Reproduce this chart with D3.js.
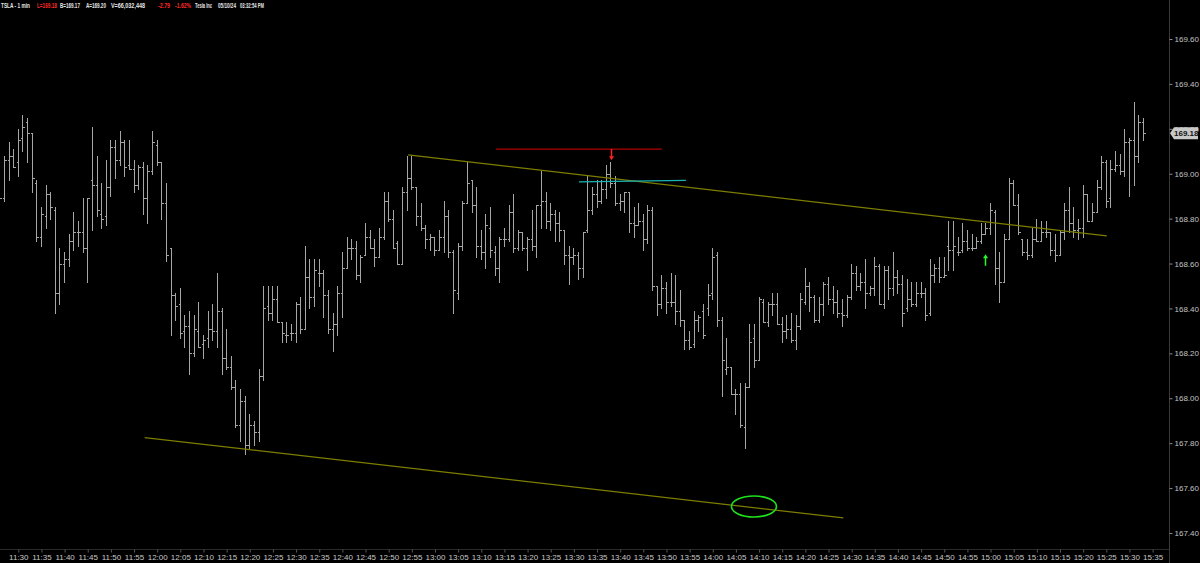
<!DOCTYPE html>
<html><head><meta charset="utf-8">
<script src="https://cdn.jsdelivr.net/npm/d3@7/dist/d3.min.js"></script>
<style>html,body{margin:0;padding:0;background:#000;overflow:hidden}</style>
</head><body><svg id="c" width="1200" height="563"></svg>
<script>
// ---- data ----
const firstBarMinute = 11*60 + 26;   // first bar 11:26, one bar per minute
const opens = [168.95,168.89,169.06,169.08,169.05,169.16,169.23,169.18,168.96,168.72,168.81,168.91,168.84,168.47,168.60,168.62,168.70,168.74,168.74,168.67,168.97,168.95,168.82,168.81,168.94,169.12,169.06,169.14,169.04,169.02,168.95,169.03,168.89,169.01,169.13,169.05,168.87,168.67,168.46,168.42,168.30,168.32,168.20,168.30,168.24,168.27,168.31,168.30,168.39,168.18,168.14,168.05,167.88,167.99,167.79,167.88,167.85,168.10,168.41,168.38,168.44,168.34,168.28,168.29,168.29,168.42,168.31,168.54,168.45,168.56,168.56,168.46,168.31,168.33,168.47,168.58,168.67,168.67,168.55,168.64,168.72,168.67,168.63,168.72,168.88,168.80,168.69,168.60,168.92,168.98,168.94,168.81,168.76,168.71,168.72,168.66,168.72,168.81,168.65,168.47,168.68,168.87,168.97,168.86,168.68,168.65,168.76,168.65,168.58,168.71,168.71,168.83,168.67,168.74,168.67,168.71,168.68,168.86,168.88,168.79,168.82,168.78,168.75,168.64,168.63,168.64,168.58,168.75,168.84,168.91,168.88,168.93,169.00,168.96,168.87,168.88,168.92,168.78,168.77,168.79,168.71,168.84,168.50,168.42,168.49,168.43,168.43,168.39,168.35,168.26,168.24,168.35,168.39,168.40,168.47,168.64,168.35,168.13,168.14,168.02,168.02,167.87,168.05,168.27,168.17,168.43,168.34,168.42,168.42,168.33,168.30,168.31,168.26,168.32,168.43,168.50,168.45,168.35,168.42,168.51,168.44,168.43,168.38,168.37,168.45,168.56,168.50,168.52,168.47,168.49,168.59,168.42,168.57,168.49,168.54,168.51,168.40,168.44,168.42,168.47,168.47,168.38,168.55,168.58,168.54,168.68,168.66,168.65,168.66,168.70,168.67,168.67,168.70,168.73,168.76,168.83,168.58,168.52,168.71,168.96,168.86,168.71,168.65,168.64,168.71,168.70,168.74,168.74,168.66,168.64,168.74,168.84,168.78,168.75,168.76,168.91,168.79,168.83,168.94,169.05,168.89,169.02,169.04,169.01,169.14,169.15,169.08,169.23];
const highs = [169.08,169.08,169.14,169.11,169.20,169.26,169.25,169.18,168.97,168.85,168.95,168.92,168.85,168.67,168.65,168.73,168.83,168.79,168.89,168.89,169.21,169.08,168.96,169.06,169.15,169.15,169.19,169.15,169.15,169.06,169.04,169.05,169.04,169.19,169.15,169.05,168.96,168.67,168.47,168.49,168.37,168.39,168.37,168.43,168.28,168.39,168.42,168.56,168.40,168.31,168.19,168.08,168.04,168.01,167.93,167.90,168.13,168.50,168.50,168.50,168.50,168.34,168.34,168.33,168.43,168.45,168.68,168.62,168.62,168.62,168.57,168.48,168.38,168.50,168.65,168.72,168.71,168.70,168.64,168.78,168.75,168.71,168.76,168.92,168.92,168.84,168.70,168.94,169.08,169.08,168.94,168.87,168.77,168.73,168.72,168.75,168.88,168.84,168.66,168.69,168.88,169.05,168.97,168.94,168.75,168.82,168.85,168.68,168.72,168.76,168.86,168.91,168.75,168.74,168.72,168.84,168.86,169.01,168.92,168.87,168.84,168.83,168.75,168.68,168.67,168.65,168.74,168.99,168.94,168.97,168.97,169.04,169.05,168.99,168.91,168.92,168.92,168.85,168.87,168.82,168.86,168.85,168.50,168.55,168.52,168.56,168.55,168.48,168.35,168.30,168.39,168.37,168.42,168.51,168.67,168.65,168.36,168.27,168.14,168.04,168.07,168.07,168.33,168.33,168.45,168.44,168.43,168.47,168.47,168.36,168.37,168.38,168.37,168.47,168.58,168.52,168.46,168.45,168.52,168.54,168.50,168.48,168.44,168.46,168.60,168.59,168.56,168.62,168.50,168.63,168.60,168.59,168.59,168.65,168.57,168.55,168.53,168.52,168.52,168.52,168.49,168.62,168.60,168.63,168.63,168.79,168.79,168.72,168.78,168.75,168.73,168.72,168.78,168.78,168.87,168.84,168.65,168.73,168.98,168.97,168.91,168.71,168.71,168.76,168.80,168.79,168.79,168.74,168.73,168.75,168.87,168.94,168.85,168.80,168.95,168.91,168.87,168.97,169.08,169.06,169.06,169.10,169.09,169.20,169.16,169.32,169.26,169.25];
const lows = [168.84,168.88,168.97,169.03,168.99,169.10,169.05,168.92,168.70,168.68,168.76,168.80,168.38,168.42,168.52,168.59,168.66,168.68,168.65,168.52,168.75,168.81,168.76,168.77,168.90,168.98,169.04,168.99,169.02,168.92,168.93,168.82,168.78,169.00,169.04,168.80,168.61,168.28,168.35,168.27,168.23,168.11,168.19,168.23,168.18,168.23,168.26,168.23,168.11,168.13,168.04,167.87,167.81,167.75,167.78,167.79,167.81,168.08,168.35,168.35,168.34,168.25,168.25,168.26,168.25,168.29,168.31,168.40,168.41,168.50,168.36,168.29,168.21,168.28,168.36,168.58,168.62,168.53,168.52,168.64,168.67,168.59,168.63,168.71,168.79,168.67,168.60,168.60,168.84,168.93,168.77,168.75,168.67,168.66,168.64,168.66,168.65,168.63,168.38,168.44,168.66,168.87,168.83,168.63,168.62,168.58,168.63,168.55,168.52,168.68,168.70,168.65,168.66,168.66,168.57,168.66,168.63,168.76,168.76,168.75,168.70,168.70,168.60,168.51,168.60,168.53,168.54,168.74,168.82,168.85,168.87,168.89,168.94,168.86,168.84,168.83,168.74,168.72,168.77,168.66,168.69,168.48,168.37,168.40,168.38,168.41,168.33,168.32,168.22,168.22,168.23,168.30,168.27,168.37,168.44,168.32,168.01,168.11,168.02,167.93,167.87,167.78,168.05,168.14,168.17,168.34,168.32,168.37,168.33,168.25,168.27,168.25,168.22,168.31,168.42,168.39,168.34,168.34,168.37,168.42,168.38,168.36,168.32,168.36,168.44,168.48,168.48,168.40,168.46,168.46,168.42,168.40,168.44,168.46,168.47,168.32,168.39,168.41,168.41,168.45,168.35,168.37,168.52,168.52,168.54,168.57,168.57,168.64,168.65,168.66,168.66,168.67,168.69,168.73,168.73,168.51,168.43,168.52,168.71,168.86,168.73,168.64,168.62,168.63,168.70,168.70,168.72,168.64,168.61,168.64,168.71,168.74,168.72,168.71,168.72,168.79,168.79,168.83,168.93,168.85,168.85,169.01,169.00,168.99,168.90,168.95,169.05,169.15];
const closes = [168.89,169.06,169.08,169.03,169.15,169.21,169.18,168.98,168.72,168.82,168.91,168.85,168.47,168.60,168.62,168.70,168.74,168.74,168.67,168.89,168.95,168.84,168.80,168.94,169.12,169.06,169.14,169.03,169.02,168.95,169.03,168.89,169.01,169.14,169.05,168.87,168.64,168.46,168.41,168.29,168.32,168.20,168.31,168.23,168.26,168.31,168.30,168.39,168.18,168.14,168.05,167.88,167.99,167.79,167.88,167.85,168.10,168.40,168.38,168.44,168.34,168.29,168.28,168.29,168.42,168.31,168.54,168.45,168.57,168.56,168.46,168.31,168.33,168.47,168.58,168.67,168.67,168.55,168.63,168.72,168.67,168.63,168.72,168.88,168.80,168.67,168.60,168.92,168.98,168.94,168.81,168.76,168.71,168.72,168.66,168.72,168.81,168.65,168.48,168.68,168.87,168.96,168.86,168.68,168.65,168.77,168.66,168.58,168.71,168.71,168.83,168.67,168.74,168.67,168.71,168.68,168.86,168.88,168.79,168.82,168.78,168.75,168.64,168.63,168.64,168.58,168.74,168.84,168.91,168.88,168.93,169.00,168.96,168.87,168.88,168.92,168.78,168.77,168.79,168.71,168.84,168.50,168.42,168.49,168.43,168.43,168.39,168.35,168.26,168.23,168.35,168.36,168.28,168.46,168.63,168.35,168.17,168.14,168.02,168.02,167.88,168.05,168.25,168.17,168.44,168.34,168.42,168.42,168.33,168.30,168.31,168.26,168.32,168.44,168.50,168.45,168.35,168.42,168.51,168.44,168.43,168.38,168.37,168.45,168.56,168.50,168.52,168.47,168.49,168.59,168.42,168.57,168.49,168.54,168.51,168.38,168.44,168.42,168.47,168.47,168.37,168.55,168.58,168.54,168.55,168.66,168.68,168.65,168.70,168.67,168.67,168.70,168.73,168.76,168.84,168.58,168.52,168.71,168.96,168.86,168.74,168.65,168.64,168.71,168.70,168.74,168.74,168.66,168.64,168.74,168.84,168.78,168.75,168.76,168.91,168.79,168.83,168.94,169.05,168.88,169.02,169.04,169.01,169.14,169.15,169.08,169.23,169.18];

const priceTicks = [167.40,167.60,167.80,168.00,168.20,168.40,168.60,168.80,169.00,169.20,169.40,169.60];
const timeTickLabels = ["11:30","11:35","11:40","11:45","11:50","11:55","12:00","12:05","12:10","12:15","12:20","12:25","12:30","12:35","12:40","12:45","12:50","12:55","13:00","13:05","13:10","13:15","13:20","13:25","13:30","13:35","13:40","13:45","13:50","13:55","14:00","14:05","14:10","14:15","14:20","14:25","14:30","14:35","14:40","14:45","14:50","14:55","15:00","15:05","15:10","15:15","15:20","15:25","15:30","15:35"];
const lastPrice = 169.18;

// header: text + colour
const headerText  = ["TSLA - 1 min","L=169.18","B=169.17","A=169.20","V=66,032,448","-2.79","-1.62%","Tesla Inc","05/10/24","03:32:54 PM"];
const headerColor = ["#e6e6e6","#ff2a2a","#e6e6e6","#e6e6e6","#e6e6e6","#ff2a2a","#ff2a2a","#e6e6e6","#e6e6e6","#e6e6e6"];

// drawings (time in minutes since midnight, price)
const upperTrend = [[774.2,169.084],[925.1,168.723]];
const lowerTrend = [[717.3,167.825],[868.2,167.467]];
const redLevel   = [[793.2,169.11],[829.0,169.11]];
const cyanLevel  = [[811.1,168.964],[834.2,168.970]];
const redArrow   = [818.2,169.11,169.065];   // time, from, to (down)
const greenArrow = [899.0,168.59,168.637];   // time, from, to (up)
const circleMark = [848.9,167.518];

// ---- chart ----
const svg = d3.select("#c");
svg.append("rect").attr("width",1200).attr("height",563).attr("fill","#000");

const toMin = s => { const [h,m] = s.split(":").map(Number); return h*60+m; };
const x = d3.scaleLinear().domain([toMin("11:30"), toMin("15:35")]).range([18.3, 1152.6]);
const y = d3.scaleLinear().domain([167.40, 169.60]).range([533, 39]);
const px = v => Math.round(v) + 0.5;
const FONT = "Liberation Sans, Arial, sans-serif";

const plotRight = 1169, plotBottom = 549;

// axes frame
svg.append("line").attr("x1",plotRight+0.5).attr("x2",plotRight+0.5).attr("y1",0).attr("y2",563)
  .attr("stroke","#3a3a3a").attr("stroke-width",1);
svg.append("line").attr("x1",0).attr("x2",plotRight).attr("y1",plotBottom+0.5).attr("y2",plotBottom+0.5)
  .attr("stroke","#2a2a2a").attr("stroke-width",1);

// right price axis (the 169.20 label sits under the last-price marker, as in the source)
const yAxis = d3.axisRight(y).tickValues(priceTicks).tickFormat(d3.format(".2f")).tickSize(3).tickPadding(2);
const gy = svg.append("g").attr("transform",`translate(${plotRight+0.5},0)`).call(yAxis);
gy.select(".domain").remove();
gy.selectAll(".tick line").attr("stroke","#8a8a8a");
gy.selectAll(".tick text").attr("fill","#c4c4c4").attr("font-family",FONT).attr("font-size","8px");

// bottom time axis
const xAxis = d3.axisBottom(x).tickValues(timeTickLabels.map(toMin)).tickFormat((d,i)=>timeTickLabels[i]).tickSize(3).tickPadding(2);
const gx = svg.append("g").attr("transform",`translate(0,${plotBottom+0.5})`).call(xAxis);
gx.select(".domain").remove();
gx.selectAll(".tick line").attr("stroke","#5a5a5a");
gx.selectAll(".tick text").attr("fill","#c8c8c8").attr("font-family",FONT).attr("font-size","8px");

// bars
const bars = opens.map((o,i)=>({t:firstBarMinute+i,o,h:highs[i],l:lows[i],c:closes[i]}));
const g = svg.append("g").attr("stroke","#a6a6a6").attr("stroke-width",1).attr("shape-rendering","crispEdges");
bars.forEach(b=>{
  const cx = px(x(b.t)-0.5);
  g.append("line").attr("x1",cx).attr("x2",cx).attr("y1",Math.round(y(b.h))).attr("y2",Math.round(y(b.l))+1);
  g.append("line").attr("x1",cx-2).attr("x2",cx).attr("y1",px(y(b.o))).attr("y2",px(y(b.o)));
  g.append("line").attr("x1",cx).attr("x2",cx+2).attr("y1",px(y(b.c))).attr("y2",px(y(b.c)));
});

// drawings
const seg = (pts,color,w)=>svg.append("line")
  .attr("x1",x(pts[0][0])).attr("y1",y(pts[0][1])).attr("x2",x(pts[1][0])).attr("y2",y(pts[1][1]))
  .attr("stroke",color).attr("stroke-width",w);
seg(upperTrend,"#7d7d00",1.2);
seg(lowerTrend,"#7d7d00",1.2);
seg(redLevel,"#b00000",1.3);
seg(cyanLevel,"#18b4b4",1.3);

function arrow(a,color,dir){
  const ax = px(x(a[0])-0.5), y0 = y(a[1]), y1 = y(a[2]);
  svg.append("line").attr("x1",ax).attr("x2",ax).attr("y1",y0).attr("y2",y1 - dir*2)
    .attr("stroke",color).attr("stroke-width",1.5);
  svg.append("path").attr("d",`M${ax-2.5},${y1-dir*3}L${ax+2.5},${y1-dir*3}L${ax},${y1+dir*1}Z`).attr("fill",color);
}
arrow(redArrow,"#ff2020",1);
arrow(greenArrow,"#20ff20",-1);

svg.append("ellipse").attr("cx",x(circleMark[0])).attr("cy",y(circleMark[1])).attr("rx",22.5).attr("ry",10.5)
  .attr("fill","none").attr("stroke","#1ee01e").attr("stroke-width",1.6);

// last price marker
const ly = y(lastPrice);
svg.append("path").attr("d",`M${plotRight+1},${ly}L${plotRight+5},${ly-6}L${plotRight+29},${ly-6}L${plotRight+29},${ly+6}L${plotRight+5},${ly+6}Z`)
  .attr("fill","#c8c8c8");
svg.append("text").attr("x",plotRight+5).attr("y",ly+3).text(d3.format(".2f")(lastPrice))
  .attr("fill","#111").attr("font-family",FONT).attr("font-size","8px").attr("font-weight","bold");

// header: each piece squeezed horizontally to the width it has in the source
const hx = [1,37,60,86,111,158,175,195,218,240];
const hw = [29,20,20,20,34,12,16,17,18,24];
headerText.forEach((t,i)=>{
  const txt = svg.append("text").attr("x",0).attr("y",0).text(t)
    .attr("fill",headerColor[i]).attr("font-family",FONT)
    .attr("font-size","8px").attr("font-weight","bold");
  const w = txt.node().getComputedTextLength();
  txt.attr("transform",`translate(${hx[i]},8) scale(${hw[i]/w},1)`);
});
</script></body></html>
